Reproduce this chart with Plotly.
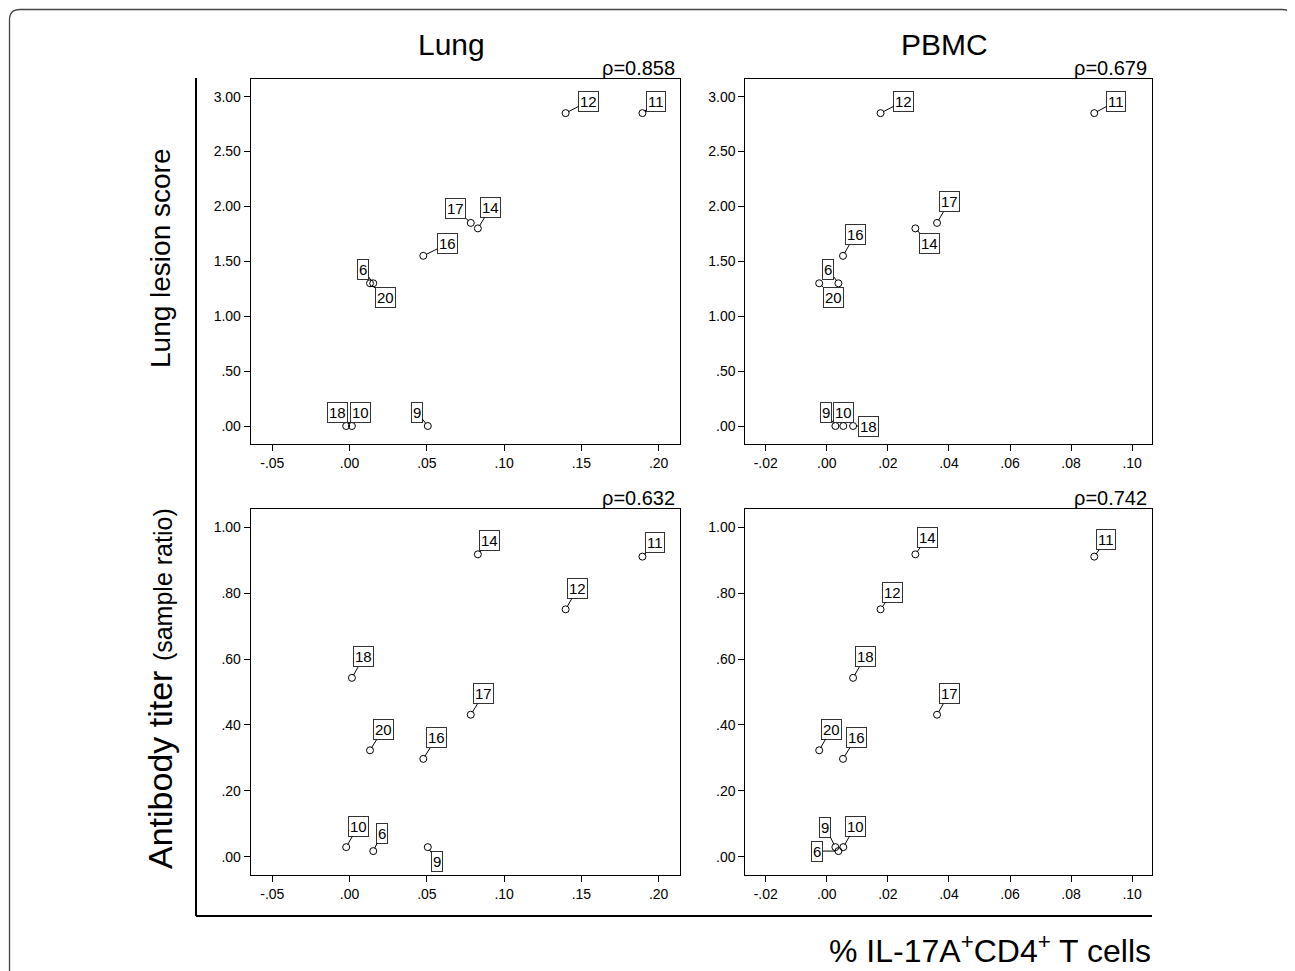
import plotly.graph_objects as go

# ---------------- data ----------------
animals = ["6", "9", "10", "11", "12", "14", "16", "17", "18", "20"]
lung_il17 = [0.0153, 0.0506, -0.0022, 0.1895, 0.1398, 0.0830, 0.0477, 0.0784, 0.0015, 0.0132]
pbmc_il17 = [0.0038, 0.0028, 0.0054, 0.0876, 0.0176, 0.0290, 0.0053, 0.0361, 0.0086, -0.0025]
lesion_score = [1.30, 0.00, 0.00, 2.85, 2.85, 1.80, 1.55, 1.85, 0.00, 1.30]
antibody_titer = [0.017, 0.029, 0.029, 0.911, 0.751, 0.918, 0.297, 0.431, 0.543, 0.323]

rho_values = ["ρ=0.858", "ρ=0.679", "ρ=0.632", "ρ=0.742"]
col_titles = ["Lung", "PBMC"]

lung_ticks = [-0.05, 0.00, 0.05, 0.10, 0.15, 0.20]
lung_ticktext = ["-.05", ".00", ".05", ".10", ".15", ".20"]
pbmc_ticks = [-0.02, 0.00, 0.02, 0.04, 0.06, 0.08, 0.10]
pbmc_ticktext = ["-.02", ".00", ".02", ".04", ".06", ".08", ".10"]
lesion_ticks = [0.0, 0.5, 1.0, 1.5, 2.0, 2.5, 3.0]
lesion_ticktext = [".00", ".50", "1.00", "1.50", "2.00", "2.50", "3.00"]
titer_ticks = [0.0, 0.2, 0.4, 0.6, 0.8, 1.0]
titer_ticktext = [".00", ".20", ".40", ".60", ".80", "1.00"]

# ---------------- style: label box offsets (pixels) per panel ----------------
label_offsets = {
    "TL": {"6": (-10, -14), "9": (-11, -14), "10": (14, -14), "11": (14, -12), "12": (23, -12),
           "14": (13, -21), "16": (24, -12), "17": (-15, -14), "18": (-14, -14), "20": (15, 14)},
    "TR": {"6": (-10, -14), "9": (-9, -14), "10": (0, -14), "11": (22, -12), "12": (23, -12),
           "14": (14, 15), "16": (12, -21), "17": (12, -21), "18": (15, 0), "20": (14, 14)},
    "BL": {"6": (9, -18), "9": (9, 14), "10": (12, -21), "11": (13, -14), "12": (12, -21),
           "14": (12, -14), "16": (13, -21), "17": (13, -21), "18": (12, -21), "20": (13, -21)},
    "BR": {"6": (-21, 0), "9": (-10, -20), "10": (12, -21), "11": (12, -17), "12": (12, -17),
           "14": (12, -17), "16": (13, -21), "17": (12, -21), "18": (12, -21), "20": (12, -21)},
}

# page body has an 8px margin: lay out in window pixels, shifted by OFF
OFF = 8
FW, FH = 1287, 963
FONT = "Liberation Sans, Arial, Helvetica, sans-serif"


def px_x(p):
    return (p - OFF) / FW


def px_y(p):
    return 1 - (p - OFF) / FH


panels = [
    ("TL", "x", "y", lung_il17, lesion_score, (250.7, 680.3), (79, 444)),
    ("TR", "x2", "y2", pbmc_il17, lesion_score, (745.3, 1152.3), (79, 444)),
    ("BL", "x3", "y3", lung_il17, antibody_titer, (250.7, 680.3), (509, 875)),
    ("BR", "x4", "y4", pbmc_il17, antibody_titer, (745.3, 1152.3), (509, 875)),
]

fig = go.Figure()
annotations = []

for key, xa, ya, xd, yd, xdom, ydom in panels:
    fig.add_trace(go.Scatter(
        x=xd, y=yd, mode="markers", xaxis=xa, yaxis=ya,
        marker=dict(symbol="circle-open", size=7, color="black", line=dict(width=1, color="black")),
        showlegend=False, hoverinfo="skip", cliponaxis=False,
    ))
    for a, xv, yv in zip(animals, xd, yd):
        dx, dy = label_offsets[key][a]
        annotations.append(dict(
            x=xv, y=yv, xref=xa, yref=ya, text=a, showarrow=True,
            ax=dx, ay=dy, arrowhead=0, arrowwidth=1, arrowcolor="black", standoff=3,
            font=dict(family=FONT, size=15, color="black"),
            bgcolor="white", bordercolor="#333333", borderwidth=1, borderpad=1,
        ))

axis_common = dict(
    showline=True, mirror=True, linecolor="black", linewidth=1,
    ticks="outside", ticklen=6, tickwidth=1, tickcolor="black",
    showgrid=False, zeroline=False, fixedrange=True,
    tickfont=dict(family=FONT, size=14, color="black"),
)

lung_range = [-0.064, 0.214]
pbmc_range = [-0.0267, 0.1066]
lesion_range = [-0.164, 3.161]
titer_range = [-0.0556, 1.0556]

layout_axes = {}
for i, (key, xa, ya, xd, yd, xdom, ydom) in enumerate(panels):
    xname = "xaxis" if xa == "x" else "xaxis" + xa[1:]
    yname = "yaxis" if ya == "y" else "yaxis" + ya[1:]
    is_lung = key in ("TL", "BL")
    is_lesion = key in ("TL", "TR")
    layout_axes[xname] = dict(
        axis_common, domain=[px_x(xdom[0]), px_x(xdom[1])],
        range=lung_range if is_lung else pbmc_range,
        tickvals=lung_ticks if is_lung else pbmc_ticks,
        ticktext=lung_ticktext if is_lung else pbmc_ticktext,
        anchor=ya,
    )
    layout_axes[yname] = dict(
        axis_common, domain=[px_y(ydom[1]), px_y(ydom[0])],
        range=lesion_range if is_lesion else titer_range,
        tickvals=lesion_ticks if is_lesion else titer_ticks,
        ticktext=lesion_ticktext if is_lesion else titer_ticktext,
        anchor=xa,
    )
    annotations.append(dict(
        x=px_x(xdom[1] - 3), y=px_y(ydom[0] - 11), xref="paper", yref="paper",
        xanchor="right", yanchor="middle", text=rho_values[i], showarrow=False,
        font=dict(family=FONT, size=20, color="black"),
    ))

for title, cx in zip(col_titles, [451, 944]):
    annotations.append(dict(
        x=px_x(cx), y=px_y(44), xref="paper", yref="paper", xanchor="center", yanchor="middle",
        text=title, showarrow=False, font=dict(family=FONT, size=30, color="black"),
    ))

annotations.append(dict(
    x=px_x(160), y=px_y(259), xref="paper", yref="paper", xanchor="center", yanchor="middle",
    text="Lung lesion score", textangle=-90, showarrow=False,
    font=dict(family=FONT, size=28, color="black"),
))
annotations.append(dict(
    x=px_x(160), y=px_y(689), xref="paper", yref="paper", xanchor="center", yanchor="middle",
    text="Antibody titer <span style='font-size:25px'>(sample ratio)</span>", textangle=-90,
    showarrow=False, font=dict(family=FONT, size=34, color="black"),
))
annotations.append(dict(
    x=px_x(1153), y=px_y(949), xref="paper", yref="paper", xanchor="right", yanchor="middle",
    text="% IL-17A<sup>+</sup>CD4<sup>+</sup> T cells", showarrow=False,
    font=dict(family=FONT, size=32, color="black"),
))

shapes = [
    dict(type="line", xref="paper", yref="paper", x0=px_x(196), x1=px_x(196), y0=px_y(78), y1=px_y(916),
         line=dict(color="black", width=2)),
    dict(type="line", xref="paper", yref="paper", x0=px_x(196), x1=px_x(1152), y0=px_y(916), y1=px_y(916),
         line=dict(color="black", width=2)),
    dict(type="path", xref="paper", yref="paper",
         path=(f"M {px_x(9.5)},{px_y(990)} L {px_x(9.5)},{px_y(20)} "
               f"Q {px_x(9.5)},{px_y(9.5)} {px_x(20)},{px_y(9.5)} "
               f"L {px_x(1282)},{px_y(9.5)} Q {px_x(1292.5)},{px_y(9.5)} {px_x(1292.5)},{px_y(20)}"),
         line=dict(color="#444444", width=1.3)),
    dict(type="line", xref="paper", yref="paper", x0=px_x(1292.5), x1=px_x(1292.5), y0=px_y(20), y1=px_y(990),
         line=dict(color="#bbbbbb", width=1.3)),
]

fig.update_layout(
    width=FW, height=FH,
    margin=dict(l=0, r=0, t=0, b=0),
    paper_bgcolor="white", plot_bgcolor="white",
    font=dict(family=FONT, color="black"),
    annotations=annotations, shapes=shapes,
    showlegend=False,
    **layout_axes,
)

fig.write_html("out.html", config={"displayModeBar": False})
